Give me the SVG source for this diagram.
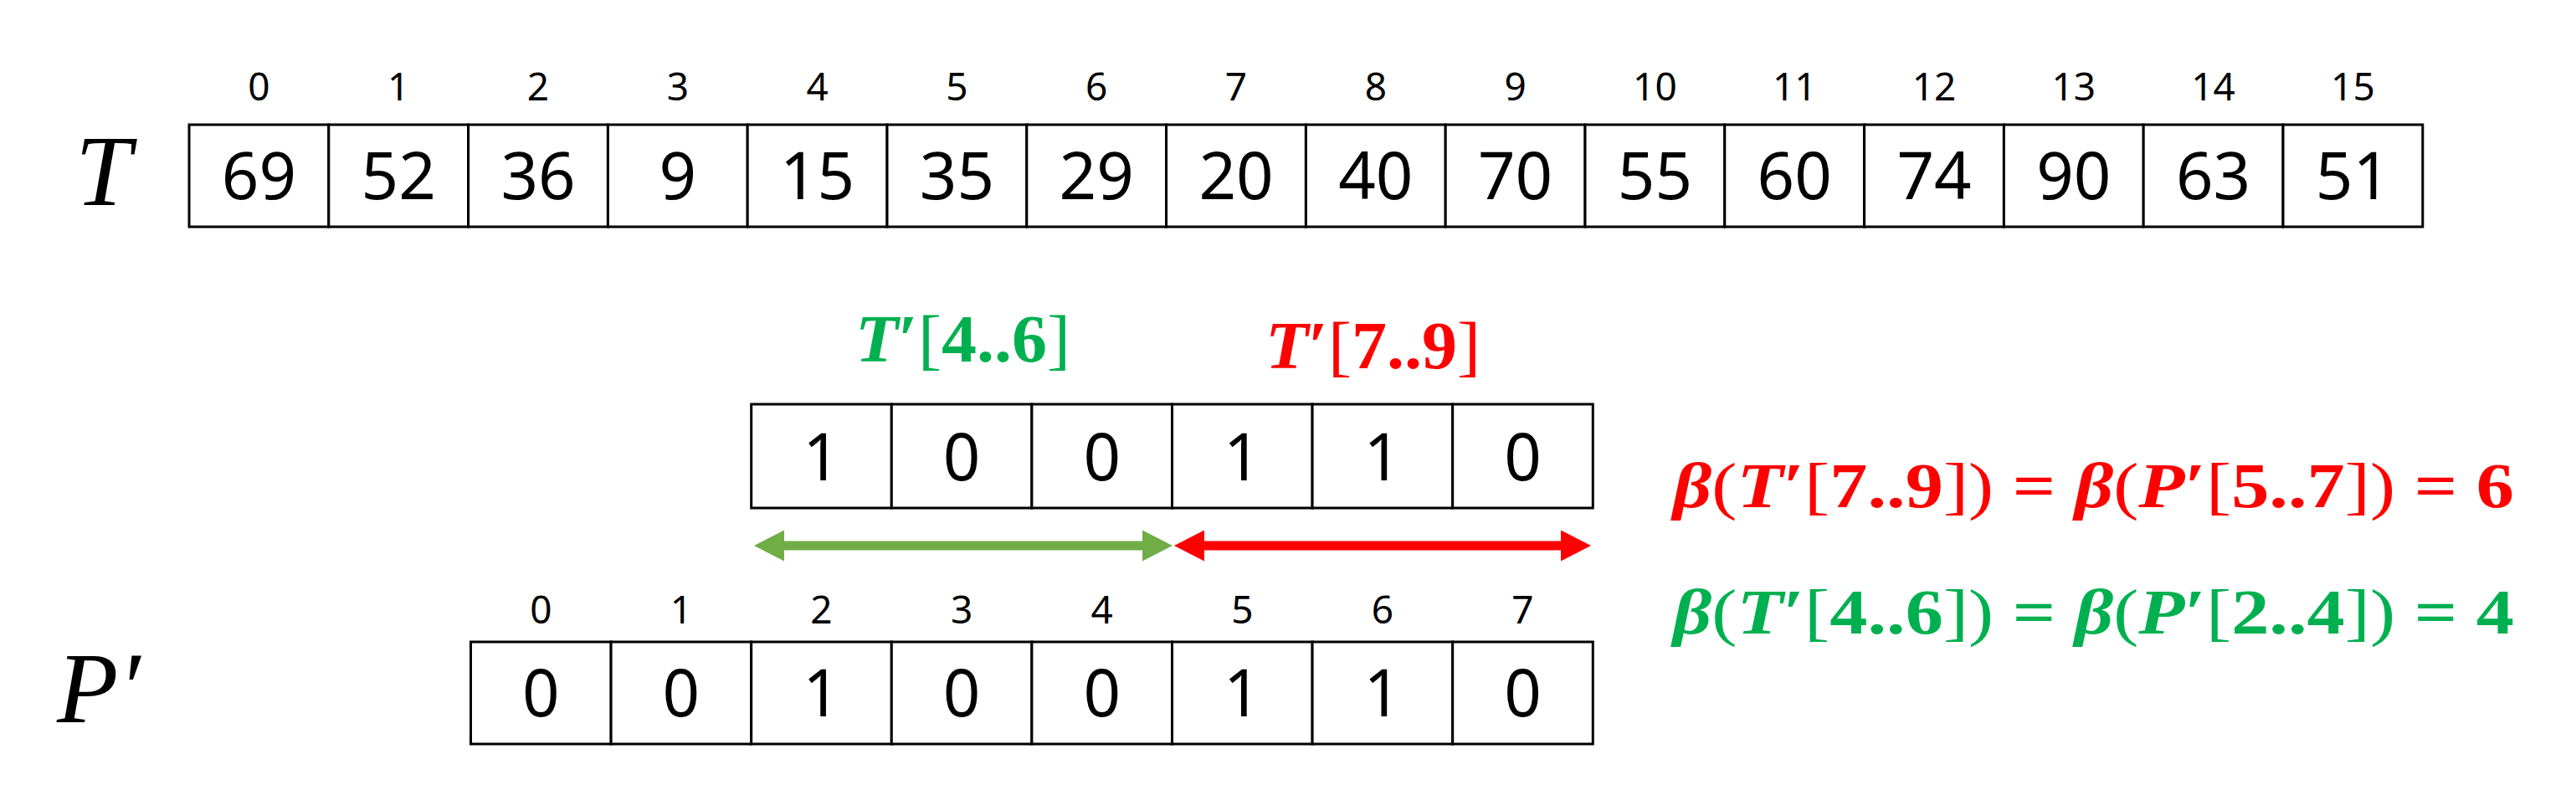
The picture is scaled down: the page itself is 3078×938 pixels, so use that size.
<svg xmlns="http://www.w3.org/2000/svg" width="3078" height="938" viewBox="0 0 3078 938">
<style>
.cell{fill:#fff;stroke:#000;stroke-width:3}
.val{font-family:"Noto Sans","Open Sans",sans-serif;font-size:78px;fill:#000;text-anchor:middle}
.idx{font-family:"Noto Sans","Open Sans",sans-serif;font-size:46px;fill:#000;text-anchor:middle}
.big{font-family:"Liberation Serif","DejaVu Serif",serif;font-style:italic;font-size:120px;fill:#000}
.math{font-family:"Liberation Serif","DejaVu Serif",serif}
.bi{font-style:italic;font-weight:bold}
.b{font-weight:bold}
.n{font-weight:normal}
.green{fill:#00B050}
.red{fill:#FF0000}
</style>
<defs>
<marker id="headG" markerUnits="userSpaceOnUse" markerWidth="36" markerHeight="37" refX="0" refY="18.5" orient="auto-start-reverse" viewBox="0 0 36 37"><path d="M0,0 L36,18.5 L0,37 z" fill="#70AD47"/></marker>
<marker id="headR" markerUnits="userSpaceOnUse" markerWidth="36" markerHeight="37" refX="0" refY="18.5" orient="auto-start-reverse" viewBox="0 0 36 37"><path d="M0,0 L36,18.5 L0,37 z" fill="#FF0000"/></marker>
</defs>
<rect width="3078" height="938" fill="#fff"/>

<g id="label-T"><text class="big" x="90" y="245">T</text></g>
<g id="label-P"><text class="big" x="68" y="863">P′</text></g>

<g id="array-T">
<g id="T-0"><rect class="cell" x="226" y="149" width="166.8" height="122"/><text class="idx" x="309.4" y="120">0</text><text class="val" x="309.4" y="238">69</text></g>
<g id="T-1"><rect class="cell" x="392.8" y="149" width="166.8" height="122"/><text class="idx" x="476.2" y="120">1</text><text class="val" x="476.2" y="238">52</text></g>
<g id="T-2"><rect class="cell" x="559.6" y="149" width="166.8" height="122"/><text class="idx" x="643" y="120">2</text><text class="val" x="643" y="238">36</text></g>
<g id="T-3"><rect class="cell" x="726.4" y="149" width="166.8" height="122"/><text class="idx" x="809.8" y="120">3</text><text class="val" x="809.8" y="238">9</text></g>
<g id="T-4"><rect class="cell" x="893.2" y="149" width="166.8" height="122"/><text class="idx" x="976.6" y="120">4</text><text class="val" x="976.6" y="238">15</text></g>
<g id="T-5"><rect class="cell" x="1060" y="149" width="166.8" height="122"/><text class="idx" x="1143.4" y="120">5</text><text class="val" x="1143.4" y="238">35</text></g>
<g id="T-6"><rect class="cell" x="1226.8" y="149" width="166.8" height="122"/><text class="idx" x="1310.2" y="120">6</text><text class="val" x="1310.2" y="238">29</text></g>
<g id="T-7"><rect class="cell" x="1393.6" y="149" width="166.8" height="122"/><text class="idx" x="1477" y="120">7</text><text class="val" x="1477" y="238">20</text></g>
<g id="T-8"><rect class="cell" x="1560.4" y="149" width="166.8" height="122"/><text class="idx" x="1643.8" y="120">8</text><text class="val" x="1643.8" y="238">40</text></g>
<g id="T-9"><rect class="cell" x="1727.2" y="149" width="166.8" height="122"/><text class="idx" x="1810.6" y="120">9</text><text class="val" x="1810.6" y="238">70</text></g>
<g id="T-10"><rect class="cell" x="1894" y="149" width="166.8" height="122"/><text class="idx" x="1977.4" y="120">10</text><text class="val" x="1977.4" y="238">55</text></g>
<g id="T-11"><rect class="cell" x="2060.8" y="149" width="166.8" height="122"/><text class="idx" x="2144.2" y="120">11</text><text class="val" x="2144.2" y="238">60</text></g>
<g id="T-12"><rect class="cell" x="2227.6" y="149" width="166.8" height="122"/><text class="idx" x="2311" y="120">12</text><text class="val" x="2311" y="238">74</text></g>
<g id="T-13"><rect class="cell" x="2394.4" y="149" width="166.8" height="122"/><text class="idx" x="2477.8" y="120">13</text><text class="val" x="2477.8" y="238">90</text></g>
<g id="T-14"><rect class="cell" x="2561.2" y="149" width="166.8" height="122"/><text class="idx" x="2644.6" y="120">14</text><text class="val" x="2644.6" y="238">63</text></g>
<g id="T-15"><rect class="cell" x="2728" y="149" width="166.8" height="122"/><text class="idx" x="2811.4" y="120">15</text><text class="val" x="2811.4" y="238">51</text></g>
</g>

<g id="label-T46"><text class="math green" x="1022" y="432" font-size="80" textLength="257" lengthAdjust="spacingAndGlyphs"><tspan class="bi">T</tspan><tspan class="b">′</tspan><tspan class="n">[</tspan><tspan class="b">4..6</tspan><tspan class="n">]</tspan></text></g>
<g id="label-T79"><text class="math red" x="1512" y="440" font-size="80" textLength="257" lengthAdjust="spacingAndGlyphs"><tspan class="bi">T</tspan><tspan class="b">′</tspan><tspan class="n">[</tspan><tspan class="b">7..9</tspan><tspan class="n">]</tspan></text></g>

<g id="array-Tprime">
<g id="M-2"><rect class="cell" x="897.7" y="483" width="167.6" height="124"/><text class="val" x="981.5" y="574">1</text></g>
<g id="M-3"><rect class="cell" x="1065.3" y="483" width="167.6" height="124"/><text class="val" x="1149.1" y="574">0</text></g>
<g id="M-4"><rect class="cell" x="1232.9" y="483" width="167.6" height="124"/><text class="val" x="1316.7" y="574">0</text></g>
<g id="M-5"><rect class="cell" x="1400.5" y="483" width="167.6" height="124"/><text class="val" x="1484.3" y="574">1</text></g>
<g id="M-6"><rect class="cell" x="1568.1" y="483" width="167.6" height="124"/><text class="val" x="1651.9" y="574">1</text></g>
<g id="M-7"><rect class="cell" x="1735.7" y="483" width="167.6" height="124"/><text class="val" x="1819.5" y="574">0</text></g>
</g>

<g id="connectors">
<line x1="937" y1="652" x2="1365" y2="652" stroke="#70AD47" stroke-width="11" marker-start="url(#headG)" marker-end="url(#headG)"/>
<line x1="1439" y1="652" x2="1865" y2="652" stroke="#FF0000" stroke-width="11" marker-start="url(#headR)" marker-end="url(#headR)"/>
</g>

<g id="array-P">
<g id="P-0"><rect class="cell" x="562.5" y="767" width="167.6" height="122"/><text class="idx" x="646.3" y="745">0</text><text class="val" x="646.3" y="856">0</text></g>
<g id="P-1"><rect class="cell" x="730.1" y="767" width="167.6" height="122"/><text class="idx" x="813.9" y="745">1</text><text class="val" x="813.9" y="856">0</text></g>
<g id="P-2"><rect class="cell" x="897.7" y="767" width="167.6" height="122"/><text class="idx" x="981.5" y="745">2</text><text class="val" x="981.5" y="856">1</text></g>
<g id="P-3"><rect class="cell" x="1065.3" y="767" width="167.6" height="122"/><text class="idx" x="1149.1" y="745">3</text><text class="val" x="1149.1" y="856">0</text></g>
<g id="P-4"><rect class="cell" x="1232.9" y="767" width="167.6" height="122"/><text class="idx" x="1316.7" y="745">4</text><text class="val" x="1316.7" y="856">0</text></g>
<g id="P-5"><rect class="cell" x="1400.5" y="767" width="167.6" height="122"/><text class="idx" x="1484.3" y="745">5</text><text class="val" x="1484.3" y="856">1</text></g>
<g id="P-6"><rect class="cell" x="1568.1" y="767" width="167.6" height="122"/><text class="idx" x="1651.9" y="745">6</text><text class="val" x="1651.9" y="856">1</text></g>
<g id="P-7"><rect class="cell" x="1735.7" y="767" width="167.6" height="122"/><text class="idx" x="1819.5" y="745">7</text><text class="val" x="1819.5" y="856">0</text></g>
</g>

<g id="formula-red"><text class="math red" x="1999" y="606" font-size="76" textLength="1005" lengthAdjust="spacingAndGlyphs"><tspan class="bi">β</tspan><tspan class="n">(</tspan><tspan class="bi">T</tspan><tspan class="b">′</tspan><tspan class="n">[</tspan><tspan class="b">7..9</tspan><tspan class="n">])</tspan><tspan class="b"> = </tspan><tspan class="bi">β</tspan><tspan class="n">(</tspan><tspan class="bi">P</tspan><tspan class="b">′</tspan><tspan class="n">[</tspan><tspan class="b">5..7</tspan><tspan class="n">])</tspan><tspan class="b"> = 6</tspan></text></g>
<g id="formula-green"><text class="math green" x="1999" y="757" font-size="76" textLength="1005" lengthAdjust="spacingAndGlyphs"><tspan class="bi">β</tspan><tspan class="n">(</tspan><tspan class="bi">T</tspan><tspan class="b">′</tspan><tspan class="n">[</tspan><tspan class="b">4..6</tspan><tspan class="n">])</tspan><tspan class="b"> = </tspan><tspan class="bi">β</tspan><tspan class="n">(</tspan><tspan class="bi">P</tspan><tspan class="b">′</tspan><tspan class="n">[</tspan><tspan class="b">2..4</tspan><tspan class="n">])</tspan><tspan class="b"> = 4</tspan></text></g>
</svg>
